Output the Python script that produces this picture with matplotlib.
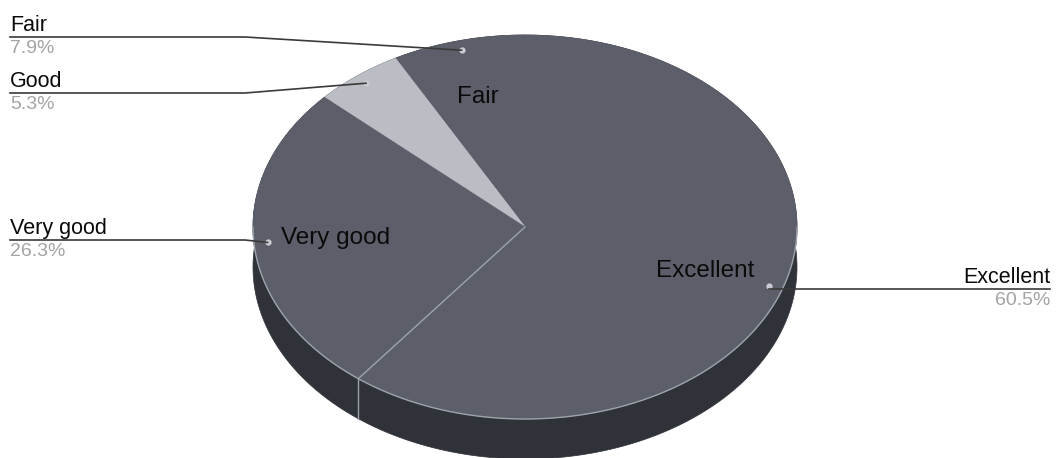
import numpy as np
import matplotlib.pyplot as plt
from matplotlib.patches import Polygon

# Data
labels = ['Fair', 'Good', 'Very good', 'Excellent']
shares = [7.9, 5.3, 26.3, 60.5]
pct_labels = ['7.9%', '5.3%', '26.3%', '60.5%']

# Styles
top_colors = ['#5c5f69', '#babdc4', '#5c5f69', '#5c5f69']
side_color = '#303239'
edge_light = '#9ea2ab'
plt.rcParams['font.family'] = ['Liberation Sans', 'DejaVu Sans']

# Pie geometry in pixel space (tilted ellipse + thickness)
cx, cy, a, b, depth = 525, 227, 272, 192, 40
start = 90


def rim(theta, r=1.0):
    t = np.radians(theta)
    return cx + r * a * np.cos(t), cy - r * b * np.sin(t)


bounds = start + np.concatenate([[0], np.cumsum(shares)]) / 100.0 * 360

fig = plt.figure(figsize=(10.57, 4.58), dpi=100)
ax = fig.add_axes([0, 0, 1, 1])
ax.set_xlim(0, 1057)
ax.set_ylim(458, 0)
ax.axis('off')

# sides first
for i in range(len(shares)):
    th = np.linspace(bounds[i], bounds[i + 1], 200)
    x, y = rim(th)
    pts = np.concatenate([np.column_stack([x, y]),
                          np.column_stack([x[::-1], y[::-1] + depth])])
    ax.add_patch(Polygon(pts, closed=True, facecolor=side_color,
                         edgecolor=side_color, lw=0.5, zorder=1))

# top faces
for i in range(len(shares)):
    th = np.linspace(bounds[i], bounds[i + 1], 200)
    x, y = rim(th)
    pts = np.concatenate([[[cx, cy]], np.column_stack([x, y])])
    ax.add_patch(Polygon(pts, closed=True, facecolor=top_colors[i],
                         edgecolor=top_colors[i], lw=0.5, zorder=2))

# light rim along the front edge
th = np.linspace(180, 360, 300)
x, y = rim(th)
ax.plot(x, y, color=edge_light, lw=1, zorder=3)

# light edges on front slice boundaries
for ang in bounds[1:-1]:
    if np.sin(np.radians(ang)) < 0:
        x, y = rim(ang)
        ax.plot([cx, x], [cy, y], color=edge_light, lw=1, zorder=3)
        ax.plot([x, x], [y, y + depth], color=edge_light, lw=1, zorder=3)

# inside labels (small slices get none)
mids = (bounds[:-1] + bounds[1:]) / 2
for lab, m, s in zip(labels, mids, shares):
    if s < 6:
        continue
    x, y = rim(m, 0.7)
    ax.text(x, y, lab, ha='center', va='center', fontsize=17.5,
            color='#0a0a0a', zorder=4)

# outer labels with leader lines
sides = ['left', 'left', 'left', 'right']
line_y = [37, 93, 240, 289]
for lab, pct, m, side, ly in zip(labels, pct_labels, mids, sides, line_y):
    ax_, ay_ = rim(m, 0.95)
    ax.plot(ax_, ay_, 'o', ms=3.5, color='#c9ccd2', zorder=5)
    if side == 'left':
        ax.plot([10, 245, ax_], [ly, ly, ay_], color='#3a3a3a', lw=1.2, zorder=5)
        ax.text(10, ly - 6, lab, ha='left', va='baseline', fontsize=15.5,
                color='#0a0a0a')
        ax.text(10, ly + 3, pct, ha='left', va='top', fontsize=14,
                color='#a3a3a3')
    else:
        ax.plot([ax_, 1050], [ly, ly], color='#3a3a3a', lw=1.2, zorder=5)
        ax.text(1050, ly - 6, lab, ha='right', va='baseline', fontsize=15.5,
                color='#0a0a0a')
        ax.text(1050, ly + 3, pct, ha='right', va='top', fontsize=14,
                color='#a3a3a3')

fig.savefig('out.png', dpi=100)
